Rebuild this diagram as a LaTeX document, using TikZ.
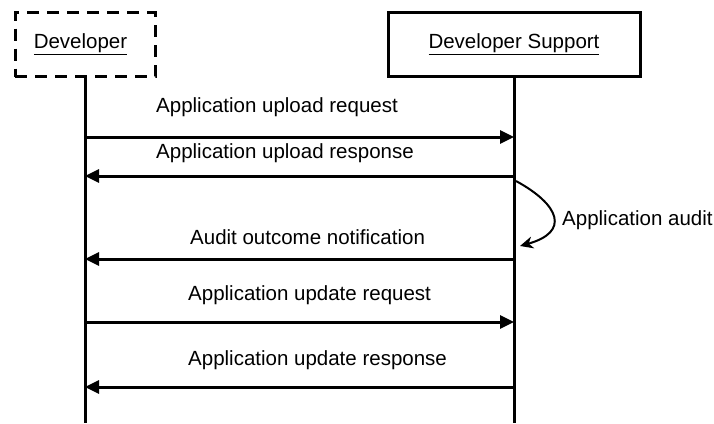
\documentclass[tikz,border=0pt]{standalone}
\usepackage{fontspec}
\setmainfont{Liberation Sans}
\usetikzlibrary{arrows.meta}
\begin{document}
\begin{tikzpicture}[x=1pt,y=-1pt,
  lbl/.style={font=\fontsize{20.5}{24}\selectfont, inner sep=0pt},
  actor/.style={draw, line width=3pt, minimum height=64pt, inner sep=0pt, font=\fontsize{20.5}{24}\selectfont},
  life/.style={line width=3pt},
  msg/.style={line width=3pt, -{Triangle[length=14pt,width=13pt]}},
  selfmsg/.style={line width=2pt, -{Stealth[length=13pt,width=12pt,inset=4pt]}}]
\useasboundingbox (0,0) rectangle (714,423);
% actors
\node[actor, dashed, dash pattern=on 12pt off 8pt, minimum width=140pt] (dev) at (85,44.5) {\underline{Developer}\hspace*{9pt}};
\node[actor, minimum width=252pt] (sup) at (514,44.5) {\underline{Developer Support}};
% lifeline ends
\coordinate (devend) at (85,423);
\coordinate (supend) at (514,423);
\draw[life] (dev.south) -- (devend);
\draw[life] (sup.south) -- (supend);
% message points
\coordinate (d1) at (85,137);  \coordinate (s1) at (514,137);
\coordinate (d2) at (85,176);  \coordinate (s2) at (514,176);
\coordinate (d3) at (85,259);  \coordinate (s3) at (514,259);
\coordinate (d4) at (85,322);  \coordinate (s4) at (514,322);
\coordinate (d5) at (85,387);  \coordinate (s5) at (514,387);
\coordinate (a1) at (516,181); \coordinate (a2) at (520,246);
% messages
\draw[msg] (d1) -- (s1);
\draw[msg] (s2) -- (d2);
\draw[msg] (s3) -- (d3);
\draw[msg] (d4) -- (s4);
\draw[msg] (s5) -- (d5);
\draw[selfmsg] (a1) .. controls (560,205) and (570,232) .. (a2);
% labels
\node[lbl, anchor=west] (t1) at (156,107) {Application upload request};
\node[lbl, anchor=west] (t2) at (156,153) {Application upload response};
\node[lbl, anchor=west] (t3) at (190,237) {Audit outcome notification};
\node[lbl, anchor=west] (t4) at (188,295) {Application update request};
\node[lbl, anchor=west] (t5) at (188,360) {Application update response};
\node[lbl, anchor=west] (t6) at (562,220) {Application audit};
\end{tikzpicture}
\end{document}
